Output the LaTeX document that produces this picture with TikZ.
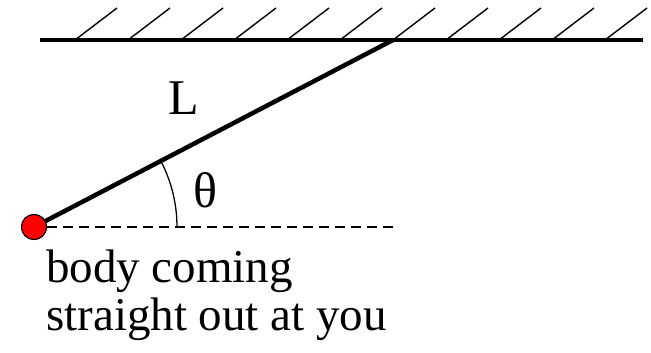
\documentclass[tikz,border=0pt]{standalone}
\usepackage{fontspec}
\setmainfont{Liberation Serif}
\begin{document}
\begin{tikzpicture}[x=1pt,y=-1pt,
  hatch/.style={line width=1.4pt},
  thick line/.style={line width=4.5pt},
  ball/.style={circle,draw=black,line width=1pt,fill=red,minimum size=25pt,inner sep=0pt},
  lbl/.style={font=\fontsize{50}{50}\selectfont,inner sep=0pt},
  txtstyle/.style={font=\fontsize{47}{48}\selectfont,inner sep=0pt,align=left}]
\useasboundingbox (0,0) rectangle (651,353);
% ceiling
\coordinate (cl) at (40,40);
\coordinate (cr) at (643,40);
\foreach \i in {0,...,10}{
  \draw[hatch] ({75+53*\i},40) -- ++(42,-32);
}
\draw[thick line] (cl) -- (cr);
% pendulum
\coordinate (pivot) at (393,40);
\node[ball] (b) at (34,227) {};
\coordinate (dashend) at (397,227);
\draw[line width=1.3pt,dash pattern=on 10pt off 6pt] (b.east) -- (dashend);
\draw[thick line] (b.center) ++(-27.45:12.5) -- (pivot);
\node[ball] at (34,227) {};
\draw[line width=1.3pt] (b.center) ++(0:143) arc[start angle=0,end angle=-27.45,radius=143];
\node[lbl] (theta) at (205,190) {θ};
\node[lbl] (L) at (184,98) {L};
\node[txtstyle,anchor=base west] (txt) at (46,330) {body coming\\straight out at you};
\end{tikzpicture}
\end{document}
